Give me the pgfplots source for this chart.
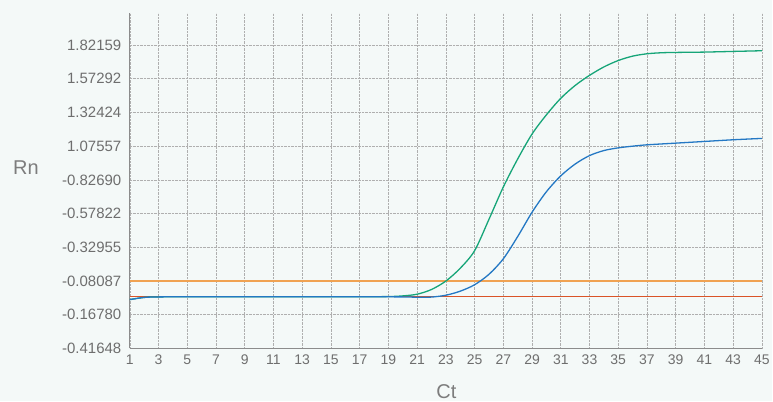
\documentclass[border=0pt]{standalone}
\usepackage{fontspec}
\setmainfont{Liberation Sans}
\usepackage{pgfplots}
\pgfplotsset{compat=1.18}

\definecolor{bg}{RGB}{244,249,248}
\definecolor{tickgray}{RGB}{110,110,110}
\definecolor{labelgray}{RGB}{125,125,125}
\definecolor{axisgray}{RGB}{140,140,140}
\definecolor{gridgray}{RGB}{175,175,175}
\definecolor{cgreen}{RGB}{22,165,120}
\definecolor{cblue}{RGB}{36,120,196}
\definecolor{corange}{RGB}{240,162,82}
\definecolor{cred}{RGB}{218,84,40}

\begin{document}
\begin{tikzpicture}[x=1pt,y=1pt]
\fill[bg] (0,0) rectangle (773,402);
\begin{axis}[
    at={(130pt,53pt)}, anchor=south west,
    scale only axis, width=633pt, height=336pt,
    xmin=1, xmax=45, ymin=0, ymax=9.95,
    axis x line*=bottom, axis y line*=left,
    axis line style={-, draw=axisgray, line width=1.1pt},
    xtick={1,3,...,45},
    ytick={0,1,...,9},
    yticklabels={-0.41648,-0.16780,-0.08087,-0.32955,-0.57822,-0.82690,1.07557,1.32424,1.57292,1.82159},
    major tick length=0pt,
    grid=major,
    major grid style={densely dotted, draw=gridgray, line width=0.6pt},
    ticklabel style={text=tickgray},
    xticklabel style={font=\fontsize{14}{16}\selectfont, yshift=-3pt},
    yticklabel style={font=\fontsize{15}{17}\selectfont, xshift=-5pt},
    /pgf/number format/assume math mode=true,
    clip=false,
]
% threshold lines
\addplot[cred, line width=1.1pt] coordinates {(1,1.53) (45,1.53)};
\addplot[corange, line width=1.8pt] coordinates {(1,2.0) (45,2.0)};

% green sample
\addplot[cgreen, line width=1.3pt, smooth] coordinates {
 (1,1.45) (2,1.515) (3,1.53) (5,1.535) (8,1.535) (11,1.535) (14,1.535) (17,1.535)
 (19,1.54) (20,1.56) (21,1.61) (22,1.75) (23,2.0) (24,2.38) (25,2.9) (26,3.83)
 (27,4.79) (28,5.62) (29,6.36) (30,6.93) (31,7.42) (32,7.8) (33,8.1) (34,8.35)
 (35,8.54) (36,8.67) (37,8.74) (38,8.77) (39,8.78) (41,8.79) (43,8.81) (45,8.83)
};

% blue sample
\addplot[cblue, line width=1.3pt, smooth] coordinates {
 (1,1.45) (2,1.515) (3,1.53) (5,1.535) (8,1.535) (11,1.535) (14,1.535) (17,1.535)
 (20,1.53) (21,1.52) (22,1.525) (23,1.58) (24,1.7) (25,1.89) (26,2.2) (27,2.66)
 (28,3.32) (29,4.04) (30,4.65) (31,5.12) (32,5.47) (33,5.72) (34,5.87) (35,5.95)
 (36,6.0) (37,6.04) (39,6.09) (41,6.14) (43,6.19) (45,6.23)
};
\end{axis}
\node[font=\fontsize{20}{24}\selectfont, text=labelgray] at (26,234) {Rn};
\node[font=\fontsize{20}{24}\selectfont, text=labelgray] at (447,10) {Ct};
\end{tikzpicture}
\end{document}
